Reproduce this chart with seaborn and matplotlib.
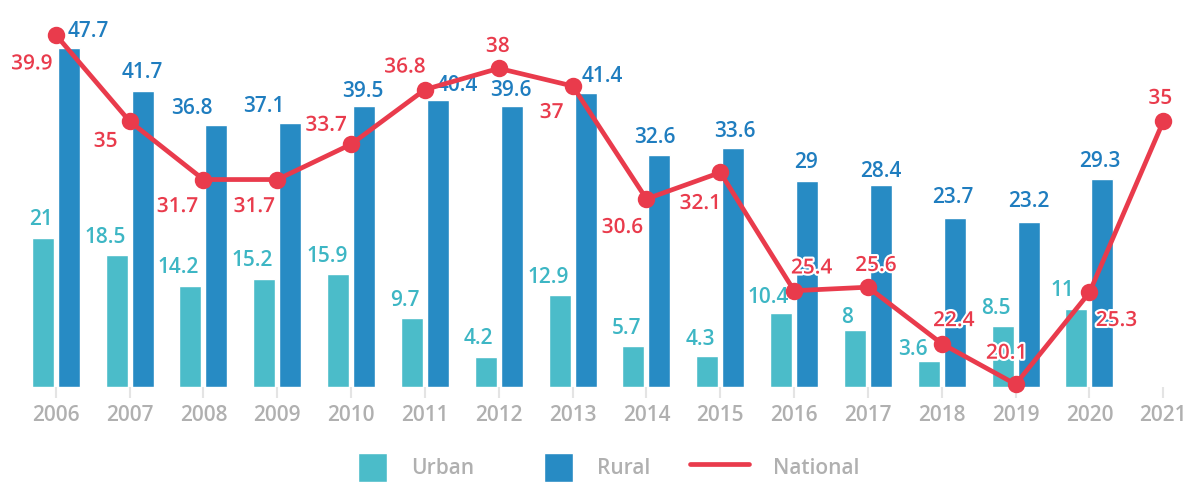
import numpy as np
import pandas as pd
import matplotlib
matplotlib.use("Agg")
import matplotlib.pyplot as plt
import matplotlib.patheffects as pe
from matplotlib.patches import Patch, Rectangle
from matplotlib.lines import Line2D
from matplotlib.legend_handler import HandlerPatch
import seaborn as sns

# ---------------- data ----------------
years = ["2006", "2007", "2008", "2009", "2010", "2011", "2012", "2013",
         "2014", "2015", "2016", "2017", "2018", "2019", "2020", "2021"]
bar_years = ["2006", "2007", "2008", "2009", "2010", "2011", "2012", "2013",
             "2014", "2015", "2016", "2017", "2018", "2019", "2020"]
urban = [21, 18.5, 14.2, 15.2, 15.9, 9.7, 4.2, 12.9, 5.7, 4.3, 10.4, 8, 3.6, 8.5, 11]
rural = [47.7, 41.7, 36.8, 37.1, 39.5, 40.4, 39.6, 41.4, 32.6, 33.6, 29, 28.4, 23.7, 23.2, 29.3]
national = [39.9, 35, 31.7, 31.7, 33.7, 36.8, 38, 37, 30.6, 32.1, 25.4, 25.6, 22.4, 20.1, 25.3, 35]
series_names = ["Urban", "Rural", "National"]

# ---------------- label layout (pixel offsets: dx right, dy up) ----------------
urban_off = [(-1.5, 20), (-11.5, 19.5), (-12, 20.5), (-12, 20), (-11, 19.5), (-7.5, 19.5),
             (-7.5, 20), (-11.7, 20), (-6.7, 20), (-7, 18.7), (-12.5, 17), (-7.5, 14.5),
             (-16, 13.6), (-6.5, 20), (-14.5, 20)]
rural_off = [(20, 19), (0, 20), (-24.5, 19), (-26.5, 18.3), (-1.5, 17), (19, 16.5),
             (-1, 17.5), (17, 18.7), (-4.5, 19.5), (1.5, 18.7), (-1, 20), (0, 15.5),
             (-2, 22.8), (0, 22), (-2.5, 19.5)]
nat_off = [(-24, -27), (-24, -18), (-26, -25), (-23, -25), (-25, 21), (-20, 24.5),
           (-1, 24), (-21, -24.5), (-24, -26.5), (-20, -29), (17.5, 24.7), (8, 23.7),
           (12, 25), (-9, 33), (27, -26), (-3, 25)]
DIGIT_HALF = 7.5

URBAN_C = "#4BBCC9"
RURAL_C = "#278BC4"
NAT_C = "#E93B4C"
URBAN_TXT = "#3DB6C4"
RURAL_TXT = "#1F7DBF"
GRAY = "#B0B0B0"

sns.set_theme(style="white")
plt.rcParams["font.family"] = ["Open Sans", "DejaVu Sans"]

fig = plt.figure(figsize=(11.87, 4.82), dpi=100)
ax = fig.add_axes([0.0128, 0.1977, 0.9859, 0.7919])

df = pd.DataFrame({
    "year": bar_years + bar_years,
    "area": [series_names[0]] * len(urban) + [series_names[1]] * len(rural),
    "value": urban + rural,
})
sns.barplot(data=df, x="year", y="value", hue="area", order=years,
            hue_order=series_names[:2], palette=[URBAN_C, RURAL_C],
            width=0.704, gap=0.153, saturation=1, errorbar=None,
            legend=False, ax=ax)

ax2 = ax.twinx()
sns.pointplot(x=years, y=national, order=years, color=NAT_C, markers="o",
              markersize=10, linewidth=3.4, errorbar=None, ax=ax2)
for art in ax2.lines + ax2.collections:
    art.set_clip_on(False)

ax.set_ylim(0, 53.76)
ax2.set_ylim(19.96, 41.59)
ax.set_xlim(-0.55, 15.3)

for a in (ax, ax2):
    a.set_yticks([])
    a.set_ylabel("")
    a.set_xlabel("")
    for s in a.spines.values():
        s.set_visible(False)
ax.tick_params(axis="x", bottom=True, length=8, width=1.5, color="#E4E4E4",
               pad=5, labelsize=15, labelcolor=GRAY)
for lab in ax.get_xticklabels():
    lab.set_fontweight("semibold")

def fmt(v):
    return f"{v:g}"

for cont, vals, offs, col in zip(ax.containers, [urban, rural], [urban_off, rural_off],
                                 [URBAN_TXT, RURAL_TXT]):
    for bar in cont:
        h = bar.get_height()
        if not np.isfinite(h):
            continue
        cx = bar.get_x() + bar.get_width() / 2
        i = int(round(cx))
        dx, dy = offs[i]
        ax.annotate(fmt(vals[i]), (cx, h), xytext=(dx, dy - DIGIT_HALF),
                    textcoords="offset pixels", ha="center", va="baseline",
                    color=col, fontsize=15, fontweight="semibold")

for i, v in enumerate(national):
    dx, dy = nat_off[i]
    ax2.annotate(fmt(v), (i, v), xytext=(dx, dy - DIGIT_HALF),
                 textcoords="offset pixels", ha="center", va="baseline",
                 color=NAT_C, fontsize=15, fontweight="semibold", zorder=6,
                 path_effects=[pe.withStroke(linewidth=3, foreground="white")])

def square(legend, orig_handle, xdescent, ydescent, width, height, fontsize):
    s = height
    return Rectangle((-xdescent + width - s, -ydescent), s, s)

handles = [Patch(facecolor=URBAN_C), Patch(facecolor=RURAL_C),
           Line2D([], [], color=NAT_C, lw=3.4)]
leg = fig.legend(handles=handles, labels=series_names, loc="center",
                 bbox_to_anchor=(0.5, 0.03), ncol=3, frameon=False, fontsize=15,
                 handlelength=2.83, handleheight=1.73, handletextpad=1.15,
                 columnspacing=1.92, borderpad=0, labelcolor=GRAY,
                 handler_map={Patch: HandlerPatch(patch_func=square)})
for t in leg.get_texts():
    t.set_fontweight("semibold")

fig.savefig("out.png", dpi=100)
